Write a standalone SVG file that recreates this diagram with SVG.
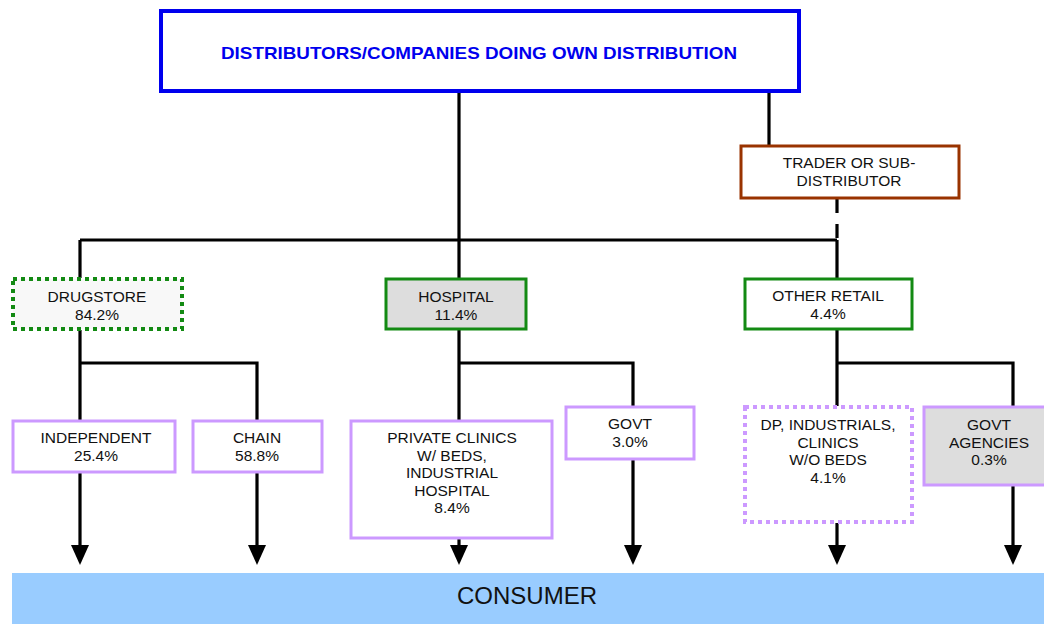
<svg xmlns="http://www.w3.org/2000/svg" width="1044" height="624" viewBox="0 0 1044 624">
<defs>
<style>
.t{font-family:"Liberation Sans",Arial,sans-serif;font-size:15.5px;fill:#111;text-anchor:middle}
.ln{stroke:#000;stroke-width:3.2;fill:none}
.grn{stroke:#138a13;stroke-width:3}
.pur{stroke:#cc99ff;stroke-width:3}
</style>
</defs>
<rect width="1044" height="624" fill="#fff"/>
<g id="connectors">
<path class="ln" d="M459,92 V278 M769,92 V145 M80,240 H837 M837,240 V278 M80,240 V278"/>
<path class="ln" d="M837,199 V240" stroke-dasharray="14,11"/>
<path class="ln" d="M80,330 V420 M80,363 H257 V420 M459,330 V420 M459,363 H633 V406 M837,330 V406 M837,363 H1013 V406"/>
<path class="ln" d="M80,472 V545 M257,472 V545 M459,538 V545 M633,459 V545 M837,523 V545 M1013,485 V545"/>
<g fill="#000">
<path d="M71,545 H89 L80,565 Z"/>
<path d="M248,545 H266 L257,565 Z"/>
<path d="M450,545 H468 L459,565 Z"/>
<path d="M624,545 H642 L633,565 Z"/>
<path d="M828,545 H846 L837,565 Z"/>
<path d="M1004,545 H1022 L1013,565 Z"/>
</g>
</g>
<g id="top">
<rect x="161" y="11" width="638" height="80" fill="#fff" stroke="#0000ee" stroke-width="4"/>
<text x="479" y="59" font-family="Liberation Sans,Arial,sans-serif" font-weight="bold" font-size="17" fill="#0000ee" text-anchor="middle" textLength="516" lengthAdjust="spacingAndGlyphs">DISTRIBUTORS/COMPANIES DOING OWN DISTRIBUTION</text>
</g>
<g id="trader">
<rect x="741" y="146" width="218" height="52" fill="#fff" stroke="#993300" stroke-width="3"/>
<text class="t" x="849" y="168">TRADER OR SUB-</text>
<text class="t" x="849" y="186">DISTRIBUTOR</text>
</g>
<g id="drugstore">
<rect x="13" y="279" width="169" height="50" fill="#f8f8f8" stroke="#138a13" stroke-width="4" stroke-dasharray="4,4"/>
<text class="t" x="97" y="302">DRUGSTORE</text>
<text class="t" x="97" y="320">84.2%</text>
</g>
<g id="hospital">
<rect x="386" y="279" width="140" height="50" fill="#dddddd" class="grn"/>
<text class="t" x="456" y="302">HOSPITAL</text>
<text class="t" x="456" y="320">11.4%</text>
</g>
<g id="other-retail">
<rect x="745" y="279" width="167" height="50" fill="#fff" class="grn"/>
<text class="t" x="828" y="301">OTHER RETAIL</text>
<text class="t" x="828" y="319">4.4%</text>
</g>
<g id="independent">
<rect x="13" y="421" width="162" height="51" fill="#fff" class="pur"/>
<text class="t" x="96" y="443">INDEPENDENT</text>
<text class="t" x="96" y="461">25.4%</text>
</g>
<g id="chain">
<rect x="193" y="421" width="129" height="51" fill="#fff" class="pur"/>
<text class="t" x="257" y="443">CHAIN</text>
<text class="t" x="257" y="461">58.8%</text>
</g>
<g id="private-clinics">
<rect x="351" y="421" width="201" height="117" fill="#fff" class="pur"/>
<text class="t" x="452" y="443">PRIVATE CLINICS</text>
<text class="t" x="452" y="460.5">W/ BEDS,</text>
<text class="t" x="452" y="478">INDUSTRIAL</text>
<text class="t" x="452" y="495.5">HOSPITAL</text>
<text class="t" x="452" y="513">8.4%</text>
</g>
<g id="govt">
<rect x="566" y="407" width="128" height="52" fill="#fff" class="pur"/>
<text class="t" x="630" y="429">GOVT</text>
<text class="t" x="630" y="447">3.0%</text>
</g>
<g id="dp">
<rect x="745" y="407" width="167" height="115" fill="#fff" stroke="#cc99ff" stroke-width="4" stroke-dasharray="4,4"/>
<text class="t" x="828" y="430">DP, INDUSTRIALS,</text>
<text class="t" x="828" y="447.5">CLINICS</text>
<text class="t" x="828" y="465">W/O BEDS</text>
<text class="t" x="828" y="482.5">4.1%</text>
</g>
<g id="govt-agencies">
<rect x="924" y="407" width="132" height="78" fill="#dddddd" class="pur"/>
<text class="t" x="989" y="430">GOVT</text>
<text class="t" x="989" y="447.5">AGENCIES</text>
<text class="t" x="989" y="465">0.3%</text>
</g>
<g id="consumer">
<rect x="12" y="573" width="1032" height="51" fill="#99ccff"/>
<text x="527" y="604" font-family="Liberation Sans,Arial,sans-serif" font-size="24" fill="#111" text-anchor="middle">CONSUMER</text>
</g>
</svg>
